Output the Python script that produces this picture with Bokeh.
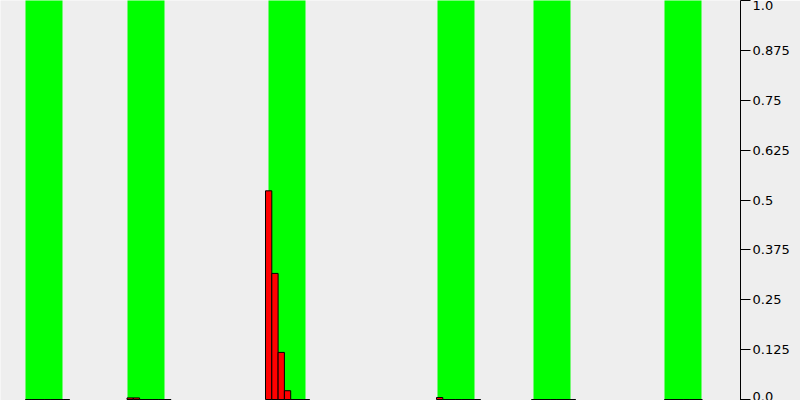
from bokeh.plotting import figure
from bokeh.models import Range1d, LinearAxis, FixedTicker, ColumnDataSource
from bokeh.embed import file_html
from bokeh.resources import INLINE

# Data (x in plot units, y in 0..1)
group_starts = [25, 126.5, 265, 436, 531, 664]
bin_width = 6.3
band_starts = [25, 127, 268, 437, 533, 664]
band_width = 37
group_values = [
    [0, 0, 0, 0, 0, 0, 0],
    [0.004, 0.004, 0, 0, 0, 0, 0],
    [0.523, 0.316, 0.118, 0.022, 0, 0, 0],
    [0.005, 0, 0, 0, 0, 0, 0],
    [0, 0, 0, 0, 0, 0, 0],
    [0, 0, 0, 0, 0, 0],
]
y_ticks = [0, 0.125, 0.25, 0.375, 0.5, 0.625, 0.75, 0.875, 1.0]
y_tick_labels = ["0.0", "0.125", "0.25", "0.375", "0.5", "0.625", "0.75", "0.875", "1.0"]

lefts, rights, tops = [], [], []
for gs, vals in zip(group_starts, group_values):
    for i, v in enumerate(vals):
        lefts.append(gs + i * bin_width)
        rights.append(gs + (i + 1) * bin_width)
        tops.append(v)
bars = ColumnDataSource(dict(left=lefts, right=rights, top=tops, bottom=[0] * len(tops)))
bands = ColumnDataSource(dict(left=band_starts,
                              right=[b + band_width for b in band_starts],
                              bottom=[-0.01] * len(band_starts),
                              top=[1.01] * len(band_starts)))

p = figure(width=800, height=400, output_backend="svg", toolbar_location=None,
           x_range=Range1d(0, 740), y_range=Range1d(-0.0025, 1.0),
           x_axis_location=None, y_axis_location=None,
           min_border_left=0, min_border_top=0, min_border_bottom=0, min_border_right=60,
           background_fill_color="#eeeeee", border_fill_color="#eeeeee")
p.outline_line_color = None
p.grid.visible = False

p.quad(left="left", right="right", bottom="bottom", top="top", source=bands,
       fill_color="#00ff00", line_color=None)
p.quad(left="left", right="right", bottom="bottom", top="top", source=bars,
       fill_color="#ff0000", line_color="black", line_width=1)

ax = LinearAxis(ticker=FixedTicker(ticks=y_ticks))
ax.major_label_overrides = {t: l for t, l in zip(y_ticks, y_tick_labels)}
ax.major_tick_out = 10
ax.major_tick_in = 0
ax.minor_tick_out = 0
ax.minor_tick_in = 0
ax.major_label_standoff = 2
ax.major_label_text_font = "DejaVu Sans"
ax.major_label_text_font_size = "13px"
ax.major_label_text_color = "black"
ax.axis_line_color = "black"
ax.major_tick_line_color = "black"
p.add_layout(ax, "right")

open("out.html", "w").write(file_html(p, INLINE))
